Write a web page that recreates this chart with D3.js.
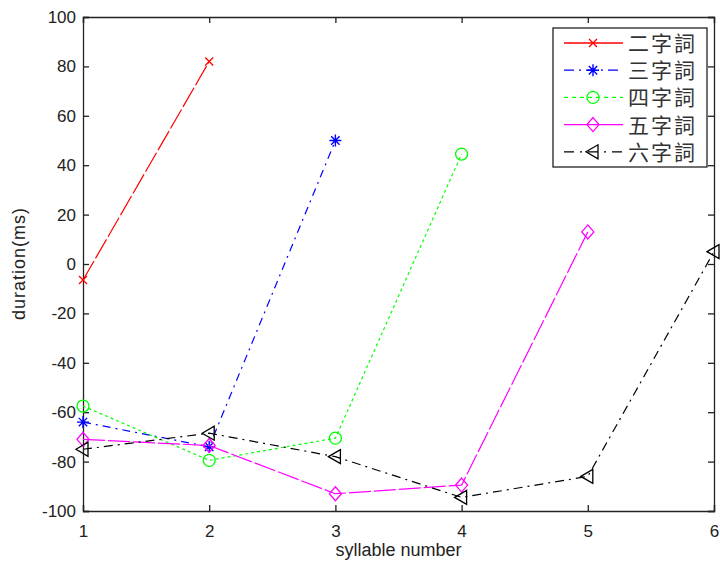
<!DOCTYPE html>
<html>
<head>
<meta charset="utf-8">
<script src="https://cdn.jsdelivr.net/npm/d3@7"></script>
<style>
  html, body { margin: 0; padding: 0; background: #fff; }
  svg { display: block; }
  text { font-family: "Liberation Sans", Arial, sans-serif; fill: #222; }
</style>
</head>
<body>
<svg id="chart" width="720" height="566"></svg>
<script>
// Syllable positions on the x axis
const syllables = [1, 2, 3, 4, 5, 6];
const xTicks = [1, 2, 3, 4, 5, 6];
const yTicks = [-100, -80, -60, -40, -20, 0, 20, 40, 60, 80, 100];

// Word-length categories (legend names)
const names = ["二字詞", "三字詞", "四字詞", "五字詞", "六字詞"];

// Duration difference (ms) per syllable, one array per word length
const two   = [-6.5, 82];
const three = [-64, -74, 50];
const four  = [-57.5, -79.5, -70.5, 44.5];
const five  = [-71, -73.5, -93, -89.5, 13];
const six   = [-75, -68.5, -78, -94.5, -86, 5];

const seriesValues = [two, three, four, five, six];
const colors = ["#ff0000", "#0000ff", "#00ff00", "#ff00ff", "#000000"];
const dashes = ["22,3", "8,5,2,5", "3,3", "22,3", "9,5,2,5"];
const legendDashes = [null, "10,5,2,5", "4,4", null, "10,6,2,6"];
const markers = ["x", "star", "circle", "diamond", "triangleLeft"];

const svg = d3.select("#chart");
const margin = { left: 83, right: 6, top: 17, bottom: 55 };
const W = 720, H = 566;

const x = d3.scaleLinear().domain([1, 6]).range([margin.left, W - margin.right]);
const y = d3.scaleLinear().domain([-100, 100]).range([H - margin.bottom, margin.top]);

const axisColor = "#222";
const tickLen = 6;
const plainNum = d => String(d);

// Axes: labels on bottom/left, inward ticks on all four sides
const axBottom = svg.append("g")
  .attr("transform", `translate(0,${y(-100)})`)
  .call(d3.axisBottom(x).tickValues(xTicks).tickSize(-tickLen).tickPadding(14).tickFormat(plainNum));
const axTop = svg.append("g")
  .attr("transform", `translate(0,${y(100)})`)
  .call(d3.axisTop(x).tickValues(xTicks).tickSize(-tickLen).tickFormat(""));
const axLeft = svg.append("g")
  .attr("transform", `translate(${x(1)},0)`)
  .call(d3.axisLeft(y).tickValues(yTicks).tickSize(-tickLen).tickPadding(7).tickFormat(plainNum));
const axRight = svg.append("g")
  .attr("transform", `translate(${x(6)},0)`)
  .call(d3.axisRight(y).tickValues(yTicks).tickSize(-tickLen).tickFormat(""));

[axBottom, axTop, axLeft, axRight].forEach(g => {
  g.select(".domain").attr("stroke", axisColor).attr("stroke-width", 1.3);
  g.selectAll(".tick line").attr("stroke", axisColor).attr("stroke-width", 1.3);
  g.selectAll(".tick text").attr("fill", "#222").style("font-size", "17px")
    .style("font-family", "'Liberation Sans', Arial, sans-serif");
});

// Axis titles
svg.append("text")
  .attr("x", (x(1) + x(6)) / 2).attr("y", 556)
  .attr("text-anchor", "middle").style("font-size", "18px")
  .text("syllable number");
svg.append("text")
  .attr("transform", `translate(25,${(y(-100) + y(100)) / 2}) rotate(-90)`)
  .attr("text-anchor", "middle").style("font-size", "18px")
  .attr("textLength", 112)
  .text("duration(ms)");

// Marker shapes
function drawMarker(g, type, cx, cy, color) {
  const s = 6;
  if (type === "x") {
    g.append("path").attr("d", `M${cx - 4},${cy - 4}L${cx + 4},${cy + 4}M${cx - 4},${cy + 4}L${cx + 4},${cy - 4}`)
      .attr("stroke", color).attr("stroke-width", 1.3).attr("fill", "none");
  } else if (type === "star") {
    const r = 6;
    let d = `M${cx - r},${cy}L${cx + r},${cy}M${cx},${cy - r}L${cx},${cy + r}`;
    const q = 4.2;
    d += `M${cx - q},${cy - q}L${cx + q},${cy + q}M${cx - q},${cy + q}L${cx + q},${cy - q}`;
    g.append("path").attr("d", d).attr("stroke", color).attr("stroke-width", 1.4).attr("fill", "none");
  } else if (type === "circle") {
    g.append("circle").attr("cx", cx).attr("cy", cy).attr("r", s)
      .attr("stroke", color).attr("stroke-width", 1.3).attr("fill", "none");
  } else if (type === "diamond") {
    g.append("path").attr("d", `M${cx},${cy - 7}L${cx + 6},${cy}L${cx},${cy + 7}L${cx - 6},${cy}Z`)
      .attr("stroke", color).attr("stroke-width", 1.3).attr("fill", "none");
  } else if (type === "triangleLeft") {
    g.append("path").attr("d", `M${cx - 7},${cy}L${cx + 5},${cy - 7}L${cx + 5},${cy + 7}Z`)
      .attr("stroke", color).attr("stroke-width", 1.3).attr("fill", "none");
  }
}

const line = d3.line().x(d => x(d[0])).y(d => y(d[1]));

const plot = svg.append("g");
seriesValues.forEach((vals, i) => {
  const pts = vals.map((v, k) => [syllables[k], v]);
  plot.append("path")
    .attr("d", line(pts))
    .attr("fill", "none")
    .attr("stroke", colors[i])
    .attr("stroke-width", 1.2)
    .attr("stroke-dasharray", dashes[i]);
  const mg = plot.append("g");
  pts.forEach(p => drawMarker(mg, markers[i], x(p[0]), y(p[1]), colors[i]));
});

// Legend
const lg = svg.append("g");
lg.append("rect").attr("x", 553).attr("y", 28).attr("width", 154).attr("height", 139)
  .attr("fill", "#fff").attr("stroke", axisColor).attr("stroke-width", 1.3);
names.forEach((name, i) => {
  const ry = 43 + i * 27.2;
  lg.append("line").attr("x1", 564).attr("x2", 623).attr("y1", ry).attr("y2", ry)
    .attr("stroke", colors[i]).attr("stroke-width", 1.3)
    .attr("stroke-dasharray", legendDashes[i]);
  drawMarker(lg, markers[i], 593, ry, colors[i]);
  lg.append("text").attr("x", 628).attr("y", ry + 8)
    .style("font-family", "'Noto Sans CJK TC', 'Noto Sans CJK SC', sans-serif")
    .style("font-size", "21px")
    .style("fill", "#333")
    .attr("textLength", 67)
    .text(name);
});
</script>
</body>
</html>
